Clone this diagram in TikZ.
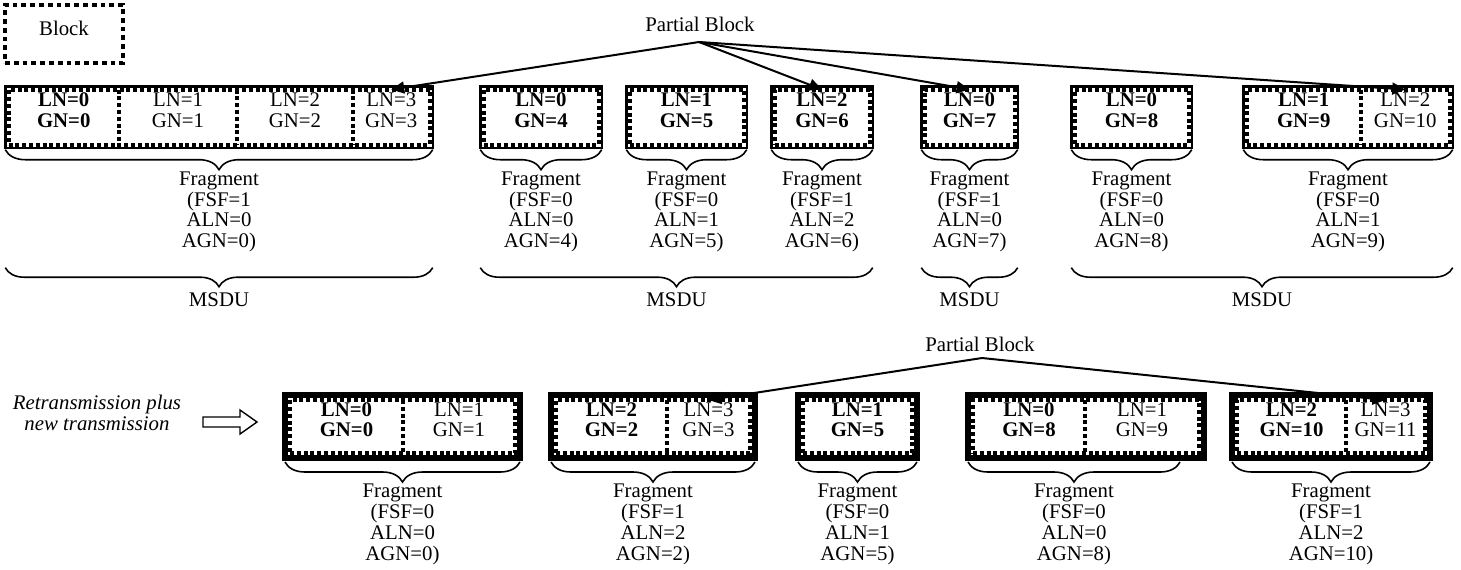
\documentclass[tikz,border=0pt]{standalone}
\usepackage{fontspec}
\setmainfont{Liberation Serif}
\usetikzlibrary{positioning,fit,arrows.meta,decorations.pathreplacing}

\begin{document}
\begin{tikzpicture}[x=0.5pt, y=-0.5pt,
    font=\fontsize{10.4pt}{10.4pt}\selectfont,
    every node/.style={outer sep=0pt},
    dotline/.style={line width=2pt, dash pattern=on 2pt off 1.4pt},
    cell/.style={inner sep=0pt, align=center},
    dotbox/.style={draw, dotline, inner sep=0pt},
    fragtop/.style={draw, line width=1.2pt, inner sep=1.6pt},
    fragbot/.style={draw, line width=3pt, inner sep=2.5pt},
    legendbox/.style={draw, line width=2.4pt, dash pattern=on 2.4pt off 2pt,
        minimum width=59pt, minimum height=29pt, text depth=6pt},
    fragbrace/.style={decorate, decoration={brace, amplitude=10pt, raise=1pt}, line width=0.8pt},
    botbrace/.style={decorate, decoration={brace, amplitude=10pt, raise=2pt}, line width=0.8pt},
    msdubrace/.style={decorate, decoration={brace, amplitude=9.5pt, raise=60pt}, line width=0.8pt},
    pbarrow/.style={-{Triangle[length=6.5pt, width=6pt]}, line width=1pt},
    fragtext/.style={align=center, inner sep=0pt}
]
    \useasboundingbox (0,0) rectangle (1461,569);

    % legend
    \node[legendbox] (legend) at (64,34) {Block};

    % first transmission
    \node[cell, fit={(8.5,89.5) (119,144.5)}] (t11) {\textbf{LN=0}\\\textbf{GN=0}};
    \node[cell, fit={(119,89.5) (237,144.5)}] (t12) {LN=1\\GN=1};
    \node[cell, fit={(237,89.5) (353,144.5)}] (t13) {LN=2\\GN=2};
    \node[cell, fit={(353,89.5) (429.5,144.5)}] (t14) {LN=3\\GN=3};
    \node[cell, fit={(483.5,89.5) (598.5,144.5)}] (t2) {\textbf{LN=0}\\\textbf{GN=4}};
    \node[cell, fit={(629.5,89.5) (743.5,144.5)}] (t3) {\textbf{LN=1}\\\textbf{GN=5}};
    \node[cell, fit={(774.5,89.5) (869.5,144.5)}] (t4) {\textbf{LN=2}\\\textbf{GN=6}};
    \node[cell, fit={(924.5,89.5) (1014.5,144.5)}] (t5) {\textbf{LN=0}\\\textbf{GN=7}};
    \node[cell, fit={(1074.5,89.5) (1188.5,144.5)}] (t6) {\textbf{LN=0}\\\textbf{GN=8}};
    \node[cell, fit={(1246.5,89.5) (1361,144.5)}] (t71) {\textbf{LN=1}\\\textbf{GN=9}};
    \node[cell, fit={(1361,89.5) (1449.5,144.5)}] (t72) {LN=2\\GN=10};

    \node[dotbox, fit=(t11)(t14)] (d1) {};
    \node[dotbox, fit=(t2)] (d2) {};
    \node[dotbox, fit=(t3)] (d3) {};
    \node[dotbox, fit=(t4)] (d4) {};
    \node[dotbox, fit=(t5)] (d5) {};
    \node[dotbox, fit=(t6)] (d6) {};
    \node[dotbox, fit=(t71)(t72)] (d7) {};
    \draw[dotline] (t11.north east) -- (t11.south east);
    \draw[dotline] (t12.north east) -- (t12.south east);
    \draw[dotline] (t13.north east) -- (t13.south east);
    \draw[dotline] (t71.north east) -- (t71.south east);

    \node[fragtop, fit=(d1)] (f1) {};
    \node[fragtop, fit=(d2)] (f2) {};
    \node[fragtop, fit=(d3)] (f3) {};
    \node[fragtop, fit=(d4)] (f4) {};
    \node[fragtop, fit=(d5)] (f5) {};
    \node[fragtop, fit=(d6)] (f6) {};
    \node[fragtop, fit=(d7)] (f7) {};

    \draw[fragbrace] (f1.south east) -- (f1.south west) node[fragtext, midway, below=12pt] (fr1) {Fragment\\(FSF=1\\ALN=0\\AGN=0)};
    \draw[fragbrace] (f2.south east) -- (f2.south west) node[fragtext, midway, below=12pt] (fr2) {Fragment\\(FSF=0\\ALN=0\\AGN=4)};
    \draw[fragbrace] (f3.south east) -- (f3.south west) node[fragtext, midway, below=12pt] (fr3) {Fragment\\(FSF=0\\ALN=1\\AGN=5)};
    \draw[fragbrace] (f4.south east) -- (f4.south west) node[fragtext, midway, below=12pt] (fr4) {Fragment\\(FSF=1\\ALN=2\\AGN=6)};
    \draw[fragbrace] (f5.south east) -- (f5.south west) node[fragtext, midway, below=12pt] (fr5) {Fragment\\(FSF=1\\ALN=0\\AGN=7)};
    \draw[fragbrace] (f6.south east) -- (f6.south west) node[fragtext, midway, below=12pt] (fr6) {Fragment\\(FSF=0\\ALN=0\\AGN=8)};
    \draw[fragbrace] (f7.south east) -- (f7.south west) node[fragtext, midway, below=12pt] (fr7) {Fragment\\(FSF=0\\ALN=1\\AGN=9)};

    % MSDUs
    \draw[msdubrace] (f1.south east) -- (f1.south west) node[midway, below=72.5pt, inner sep=0pt] (m1) {MSDU};
    \draw[msdubrace] (f4.south east) -- (f2.south west) node[midway, below=72.5pt, inner sep=0pt] (m2) {MSDU};
    \draw[msdubrace] (f5.south east) -- (f5.south west) node[midway, below=72.5pt, inner sep=0pt] (m3) {MSDU};
    \draw[msdubrace] (f7.south east) -- (f6.south west) node[midway, below=72.5pt, inner sep=0pt] (m4) {MSDU};

    \node (pbtop) at (700,24) {Partial Block};
    \coordinate (ptop) at (699,42);
    \draw[pbarrow] (ptop) -- (t14.north);
    \draw[pbarrow] (ptop) -- (t4.north);
    \draw[pbarrow] (ptop) -- (t5.north);
    \draw[pbarrow] (ptop) -- (t72.north);

    % retransmission
    \node[fragtext, anchor=north, font=\fontsize{10.4pt}{10.5pt}\selectfont\itshape] (retx) at (97,395) {Retransmission plus\\new transmission};
    \draw[line width=0.7pt] (203,417) -- (240,417) -- (240,410) -- (257,422) -- (240,434) -- (240,427) -- (203,427) -- cycle;

    \node[cell, fit={(290,400) (403,453)}] (bA1) {\textbf{LN=0}\\\textbf{GN=0}};
    \node[cell, fit={(403,400) (515,453)}] (bA2) {LN=1\\GN=1};
    \node[cell, fit={(556,400) (667,453)}] (bB1) {\textbf{LN=2}\\\textbf{GN=2}};
    \node[cell, fit={(667,400) (750,453)}] (bB2) {LN=3\\GN=3};
    \node[cell, fit={(803,400) (912,453)}] (bC) {\textbf{LN=1}\\\textbf{GN=5}};
    \node[cell, fit={(973,400) (1085,453)}] (bD1) {\textbf{LN=0}\\\textbf{GN=8}};
    \node[cell, fit={(1085,400) (1199,453)}] (bD2) {LN=1\\GN=9};
    \node[cell, fit={(1237,400) (1346,453)}] (bE1) {\textbf{LN=2}\\\textbf{GN=10}};
    \node[cell, fit={(1346,400) (1425,453)}] (bE2) {LN=3\\GN=11};

    \node[dotbox, fit=(bA1)(bA2)] (dA) {};
    \node[dotbox, fit=(bB1)(bB2)] (dB) {};
    \node[dotbox, fit=(bC)] (dC) {};
    \node[dotbox, fit=(bD1)(bD2)] (dD) {};
    \node[dotbox, fit=(bE1)(bE2)] (dE) {};
    \draw[dotline] (bA1.north east) -- (bA1.south east);
    \draw[dotline] (bB1.north east) -- (bB1.south east);
    \draw[dotline] (bD1.north east) -- (bD1.south east);
    \draw[dotline] (bE1.north east) -- (bE1.south east);

    \node[fragbot, fit=(dA)] (fA) {};
    \node[fragbot, fit=(dB)] (fB) {};
    \node[fragbot, fit=(dC)] (fC) {};
    \node[fragbot, fit=(dD)] (fD) {};
    \node[fragbot, fit=(dE)] (fE) {};

    \draw[botbrace] (fA.south east) -- (fA.south west) node[fragtext, midway, below=13pt] (frA) {Fragment\\(FSF=0\\ALN=0\\AGN=0)};
    \draw[botbrace] (fB.south east) -- (fB.south west) node[fragtext, midway, below=13pt] (frB) {Fragment\\(FSF=1\\ALN=2\\AGN=2)};
    \draw[botbrace] (fC.south east) -- (fC.south west) node[fragtext, midway, below=13pt] (frC) {Fragment\\(FSF=0\\ALN=1\\AGN=5)};
    \draw[botbrace] ([xshift=-12pt]fD.south east) -- (fD.south west) node[fragtext, midway, below=13pt] (frD) {Fragment\\(FSF=0\\ALN=0\\AGN=8)};
    \draw[botbrace] (fE.south east) -- (fE.south west) node[fragtext, midway, below=13pt] (frE) {Fragment\\(FSF=1\\ALN=2\\AGN=10)};

    \node (pbbot) at (980,344) {Partial Block};
    \coordinate (pbot) at (982,358);
    \draw[pbarrow] (pbot) -- (bB2.north);
    \draw[pbarrow] (pbot) -- (bE2.north);
\end{tikzpicture}
\end{document}
